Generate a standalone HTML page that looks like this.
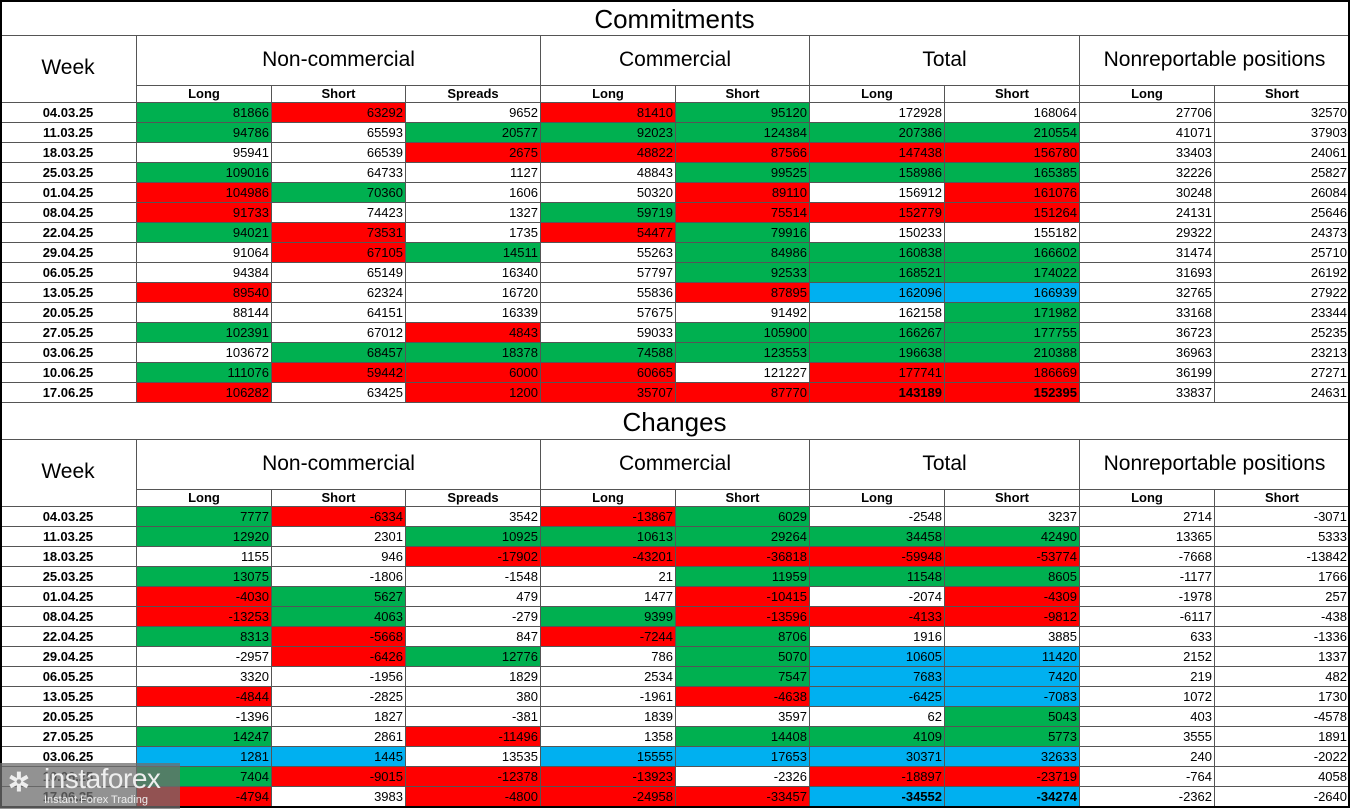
<!DOCTYPE html>
<html><head><meta charset="utf-8">
<style>
body{margin:0;width:1350px;height:809px;background:#fff;overflow:hidden;font-family:"Liberation Sans",sans-serif;}
#root{position:relative;width:1350px;height:809px;}
.c{position:absolute;box-sizing:border-box;border-right:1px solid #555;border-bottom:1px solid #555;font-size:13px;line-height:19px;white-space:nowrap;overflow:hidden;color:#000;}
.num{text-align:right;padding-right:2px;}
.date{text-align:center;font-weight:bold;}
.sub{text-align:center;font-weight:bold;font-size:13px;line-height:16px;}
.grp{text-align:center;font-size:21px;line-height:48px;}
.title{text-align:center;font-size:26px;}
.g{background:#00b050}.r{background:#ff0000}.b{background:#00b0f0}.w{background:#fff}
#wm{position:absolute;left:0;top:763px;width:180px;height:46px;background:rgba(110,110,110,0.75);color:#eee;}
</style></head><body>
<div id="root"></div>
<div id="wm">
<div style="position:absolute;left:8px;top:4px;font-size:26px;font-weight:bold;">✲</div>
<div style="position:absolute;left:44px;top:0px;font-size:28px;letter-spacing:-0.5px;">instaforex</div>
<div style="position:absolute;left:44px;top:31px;font-size:11px;">Instant Forex Trading</div>
</div>
<script>
const weeks=["04.03.25","11.03.25","18.03.25","25.03.25","01.04.25","08.04.25","22.04.25","29.04.25","06.05.25","13.05.25","20.05.25","27.05.25","03.06.25","10.06.25","17.06.25"];
const subHeads=["Long","Short","Spreads","Long","Short","Long","Short","Long","Short"];
const groups=[["Non-commercial",1,3],["Commercial",4,2],["Total",6,2],["Nonreportable positions",8,2]];
const commitVals=[
[81866,63292,9652,81410,95120,172928,168064,27706,32570],
[94786,65593,20577,92023,124384,207386,210554,41071,37903],
[95941,66539,2675,48822,87566,147438,156780,33403,24061],
[109016,64733,1127,48843,99525,158986,165385,32226,25827],
[104986,70360,1606,50320,89110,156912,161076,30248,26084],
[91733,74423,1327,59719,75514,152779,151264,24131,25646],
[94021,73531,1735,54477,79916,150233,155182,29322,24373],
[91064,67105,14511,55263,84986,160838,166602,31474,25710],
[94384,65149,16340,57797,92533,168521,174022,31693,26192],
[89540,62324,16720,55836,87895,162096,166939,32765,27922],
[88144,64151,16339,57675,91492,162158,171982,33168,23344],
[102391,67012,4843,59033,105900,166267,177755,36723,25235],
[103672,68457,18378,74588,123553,196638,210388,36963,23213],
[111076,59442,6000,60665,121227,177741,186669,36199,27271],
[106282,63425,1200,35707,87770,143189,152395,33837,24631]];
const commitColors=["grwrgwwww","gwgggggww","wwrrrrrww","gwwwgggww","rgwwrwrww","rwwgrrrww","grwrgwwww","wrgwgggww","wwwwgggww","rwwwrbbww","wwwwwwgww","gwrwgggww","wwggggggww".slice(1),"grrrwrrww","rwrrrrrww"];
const changeVals=[
[7777,-6334,3542,-13867,6029,-2548,3237,2714,-3071],
[12920,2301,10925,10613,29264,34458,42490,13365,5333],
[1155,946,-17902,-43201,-36818,-59948,-53774,-7668,-13842],
[13075,-1806,-1548,21,11959,11548,8605,-1177,1766],
[-4030,5627,479,1477,-10415,-2074,-4309,-1978,257],
[-13253,4063,-279,9399,-13596,-4133,-9812,-6117,-438],
[8313,-5668,847,-7244,8706,1916,3885,633,-1336],
[-2957,-6426,12776,786,5070,10605,11420,2152,1337],
[3320,-1956,1829,2534,7547,7683,7420,219,482],
[-4844,-2825,380,-1961,-4638,-6425,-7083,1072,1730],
[-1396,1827,-381,1839,3597,62,5043,403,-4578],
[14247,2861,-11496,1358,14408,4109,5773,3555,1891],
[1281,1445,13535,15555,17653,30371,32633,240,-2022],
[7404,-9015,-12378,-13923,-2326,-18897,-23719,-764,4058],
[-4794,3983,-4800,-24958,-33457,-34552,-34274,-2362,-2640]];
const changeColors=["grwrgwwww","gwgggggww","wwrrrrrww","gwwwgggww","rgwwrwrww","rgwgrrrww","grwrgwwww","wrgwgbbww","wwwwgbbww","rwwwrbbww","wwwwwwgww","gwrwgggww","bbwbbbbww","grrrwrrww","rwrrrbbww"];
const xs=[0,137,272,406,541,676,810,945,1080,1215,1350];
const root=document.getElementById('root');
function cell(x,y,w,h,cls,txt,name){
  const d=document.createElement('div');
  d.className='c '+cls;
  d.style.left=x+'px';d.style.top=y+'px';d.style.width=w+'px';d.style.height=h+'px';
  d.textContent=txt;
  
  
  root.appendChild(d);return d;
}
function section(top,title,vals,colors,key){
  const t=cell(0,top,1350,top===0?36:37,'title',title,key+'-title');
  t.style.lineHeight=(top===0?38:38)+'px';
  const h0=top+(top===0?36:37);
  const wk=cell(0,h0,137,67,'grp','Week',key+'-week-header');
  wk.style.lineHeight='64px';
  groups.forEach(g=>{
    const x=xs[g[1]],w=xs[g[1]+g[2]]-x;
    cell(x,h0,w,50,'grp',g[0],key+'-group-'+g[0].toLowerCase().replace(/\s+/g,'-'));
  });
  subHeads.forEach((s,i)=>{
    cell(xs[i+1],h0+50,xs[i+2]-xs[i+1],17,'sub',s,key+'-subheader-'+s.toLowerCase());
  });
  const r0=h0+67;
  weeks.forEach((wkn,ri)=>{
    const y=r0+ri*20;
    cell(0,y,137,20,'date',wkn,key+'-week-'+wkn);
    vals[ri].forEach((v,ci)=>{
      const d=cell(xs[ci+1],y,xs[ci+2]-xs[ci+1],20,'num '+colors[ri][ci],String(v),key+'-value');
      if(ri===14&&(ci===5||ci===6))d.style.fontWeight='bold';
    });
  });
}
section(0,'Commitments',commitVals,commitColors,'commitments');
section(403,'Changes',changeVals,changeColors,'changes');
const frame=document.createElement('div');
frame.style.cssText='position:absolute;left:0;top:0;width:1350px;height:808px;box-sizing:border-box;border:2px solid #000;pointer-events:none;';


root.appendChild(frame);
</script>
</body></html>
